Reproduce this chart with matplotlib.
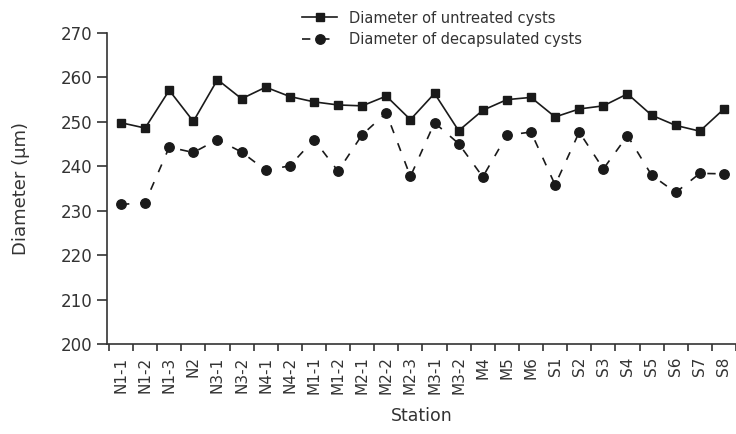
import matplotlib
matplotlib.use("Agg")
import matplotlib.pyplot as plt
import numpy as np

stations = ["N1-1", "N1-2", "N1-3", "N2", "N3-1", "N3-2", "N4-1", "N4-2",
            "M1-1", "M1-2", "M2-1", "M2-2", "M2-3", "M3-1", "M3-2",
            "M4", "M5", "M6", "S1", "S2", "S3", "S4", "S5", "S6", "S7", "S8"]
untreated = [249.8, 248.6, 257.1, 250.1, 259.5, 255.2, 257.8, 255.7,
             254.5, 253.8, 253.6, 255.8, 250.5, 256.4, 248.0,
             252.6, 255.0, 255.5, 251.1, 252.9, 253.6, 256.3, 251.5, 249.2, 247.9, 252.9]
decapsulated = [231.4, 231.8, 244.3, 243.1, 246.0, 243.2, 239.1, 240.1,
                246.0, 238.9, 247.1, 252.0, 237.7, 249.8, 245.1,
                237.6, 247.0, 247.7, 235.8, 247.7, 239.4, 246.9, 238.0, 234.1, 238.4, 238.3]

x = np.arange(len(stations))

fig = plt.figure(figsize=(7.36, 4.34), dpi=100)
ax = fig.add_axes([0.1454, 0.2074, 0.8546, 0.7166])

c = "#1a1a1a"
txt = "#333333"
ax.plot(x, untreated, color=c, lw=1.2, marker="s", ms=5.8, label="Diameter of untreated cysts")
ax.plot(x, decapsulated, color=c, lw=1.2, ls=(0, (5, 6.5)), marker="o", ms=6.8,
        label="Diameter of decapsulated cysts")

ax.set_xlim(-0.58, 25.37)
ax.set_ylim(200, 270)
ax.set_yticks(range(200, 271, 10))
# ticks sit between stations, labels in the middle
ax.set_xticks(np.arange(-0.5, len(stations)), minor=False)
ax.set_xticklabels([])
ax.set_xticks(x, minor=True)
ax.set_xticklabels(stations, minor=True, rotation=90, fontsize=11, color=txt)
ax.tick_params(axis="x", which="minor", length=0, pad=9)
ax.tick_params(axis="x", which="major", length=5, width=1.2, color=txt)
ax.tick_params(axis="y", length=7, width=1.2, color=txt, labelsize=12, labelcolor=txt)

for s in ["top", "right"]:
    ax.spines[s].set_visible(False)
for s in ["left", "bottom"]:
    ax.spines[s].set_linewidth(1.2)
    ax.spines[s].set_color(txt)

ax.set_ylabel("Diameter (μm)", fontsize=13, color=txt, labelpad=22)
ax.set_xlabel("Station", fontsize=12.5, color=txt, labelpad=9)

fig.legend(loc="upper left", bbox_to_anchor=(0.393, 1.006), frameon=False, fontsize=10.5,
           handlelength=2.4, handletextpad=0.8, labelspacing=0.45, labelcolor=txt)

fig.savefig("out.png", dpi=100)
